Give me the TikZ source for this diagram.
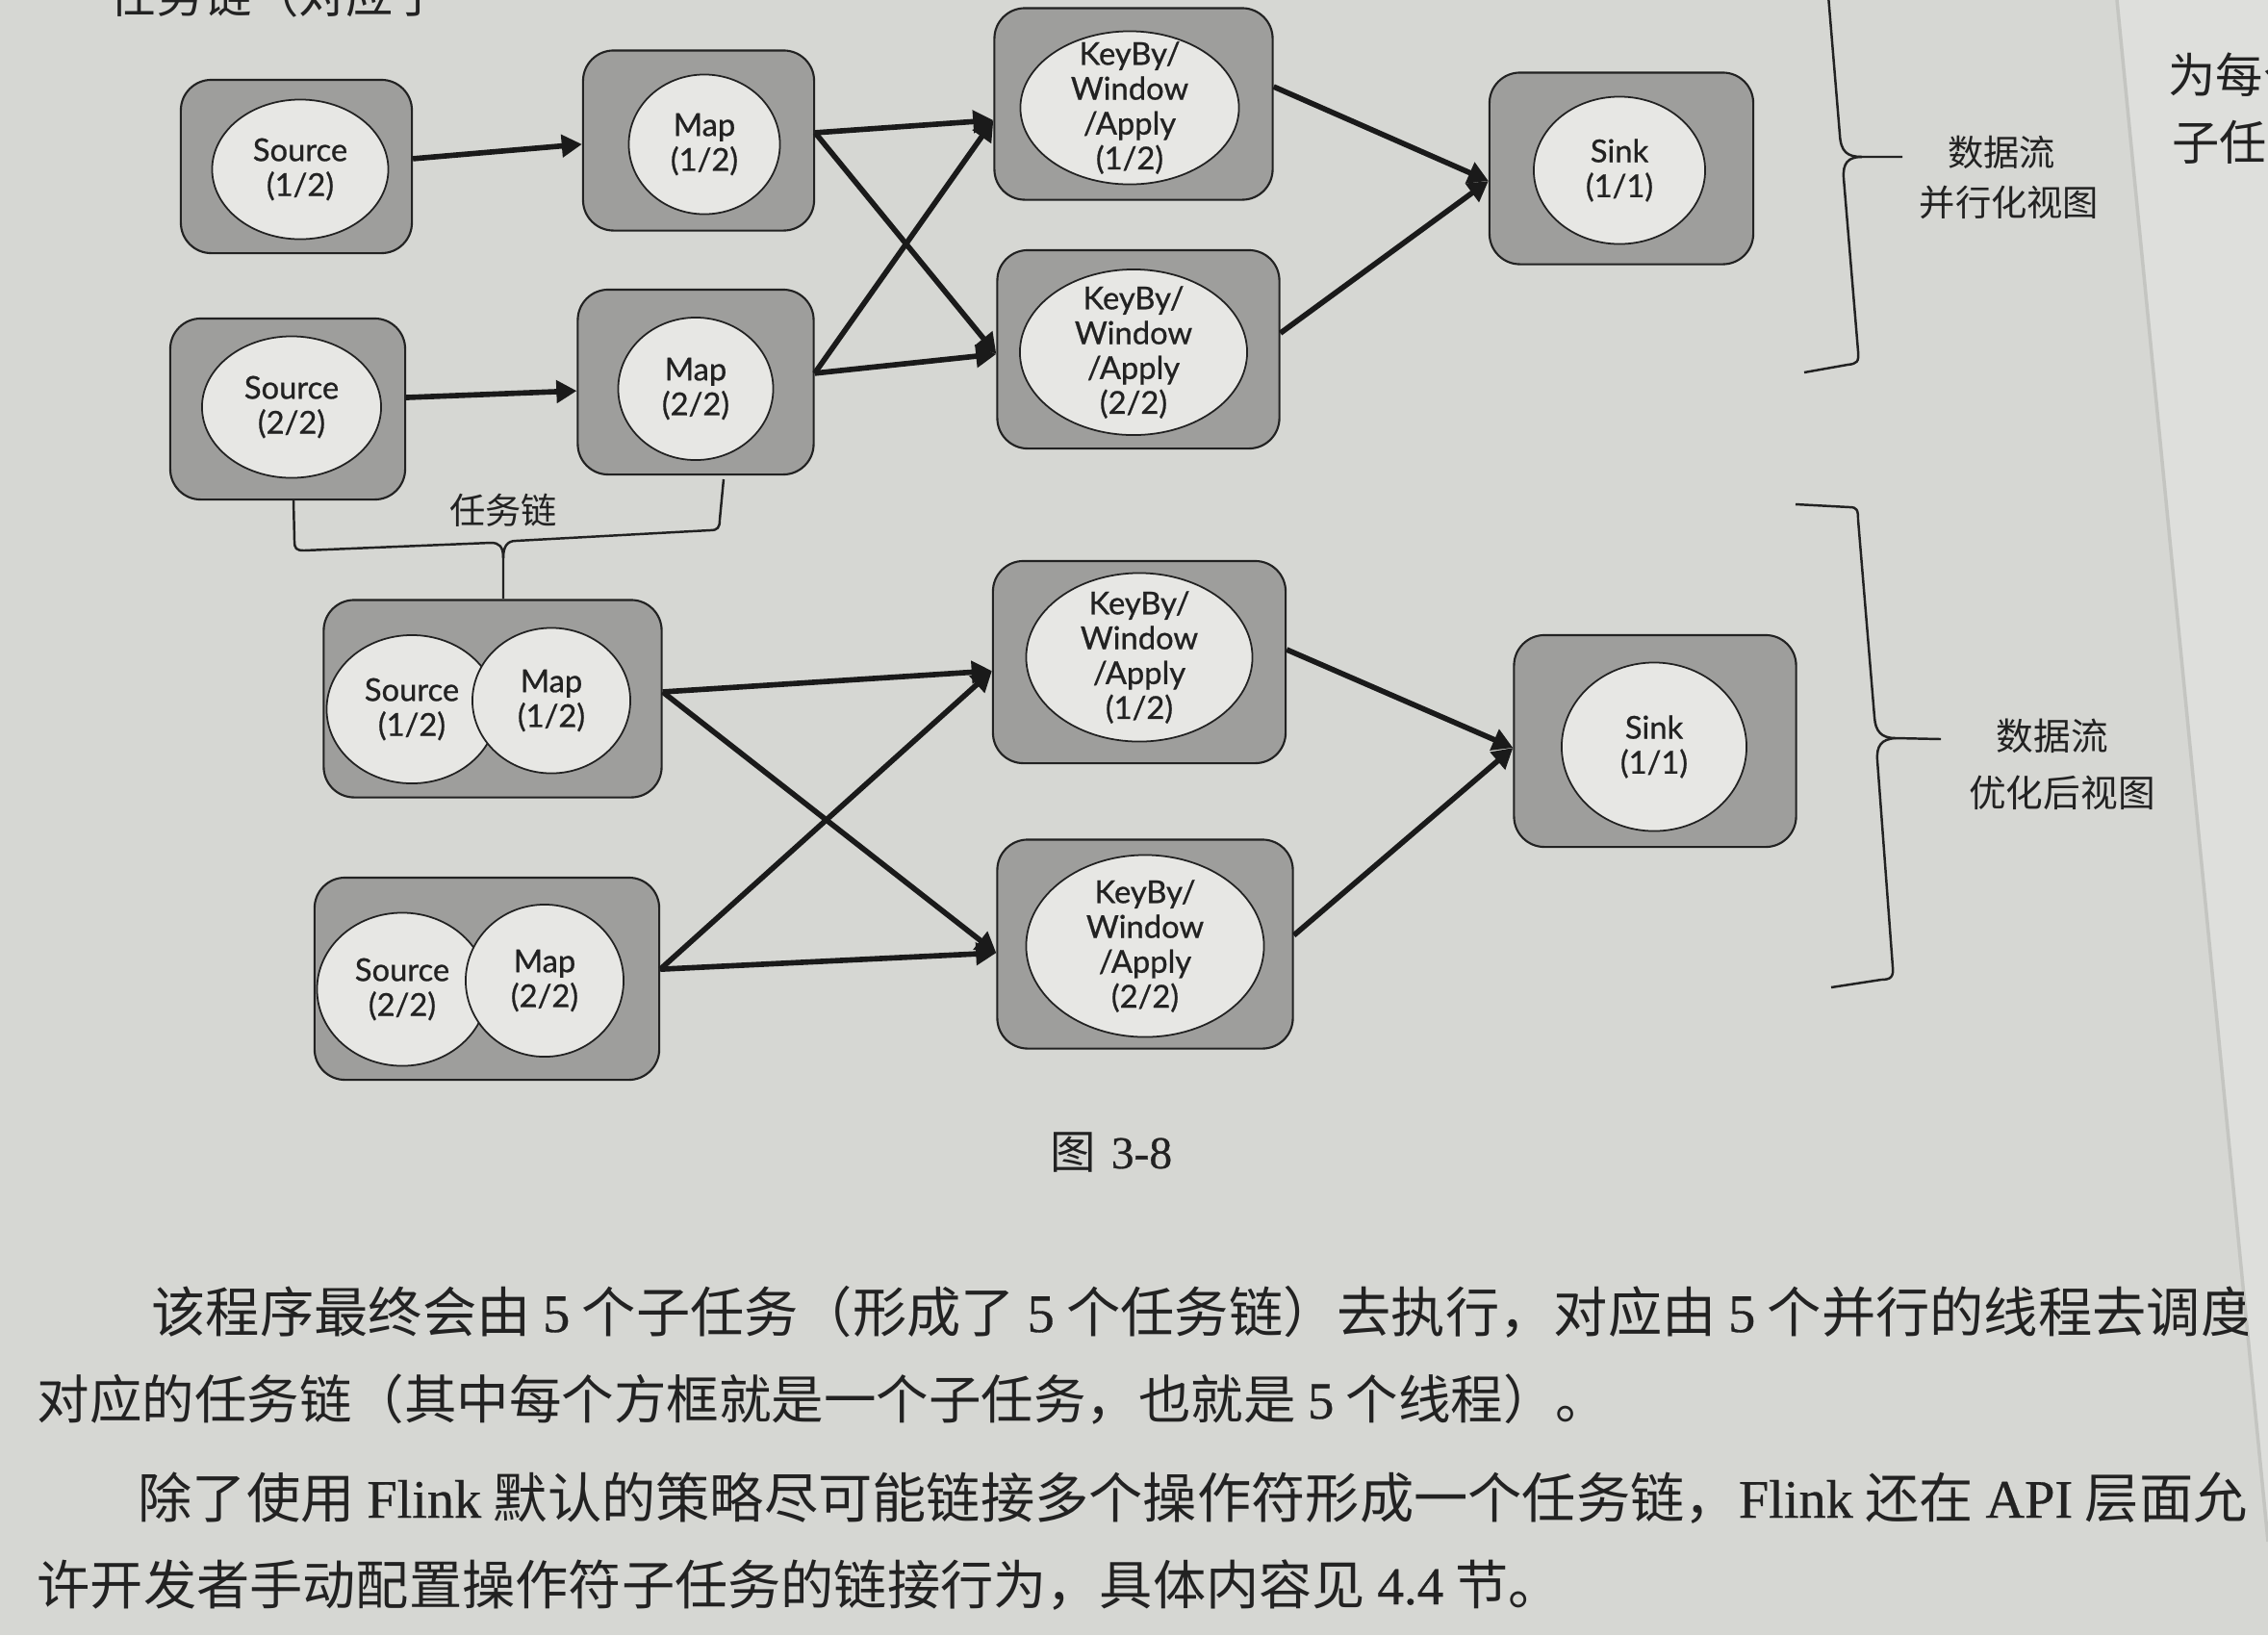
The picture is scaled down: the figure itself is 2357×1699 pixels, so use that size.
\documentclass[tikz,border=0pt]{standalone}
\usepackage{fontspec}
\usetikzlibrary{shapes.geometric,arrows.meta}
\newfontfamily\cjk{Noto Sans CJK SC}
\newfontfamily\serifl{Liberation Serif}[FakeBold=0.6]
\newfontfamily\lato{Lato}[FakeBold=0.8]
\definecolor{pagebg}{RGB}{214,215,211}
\definecolor{nextpage}{RGB}{222,223,220}
\definecolor{edgeshade}{RGB}{196,197,193}
\definecolor{boxgray}{RGB}{158,158,156}
\definecolor{opfill}{RGB}{231,231,228}
\definecolor{ink}{RGB}{34,34,34}
\definecolor{arrowink}{RGB}{26,26,26}
\begin{document}
\begin{tikzpicture}[x=0.01cm,y=-0.01cm,
  task/.style={draw=ink, line width=0.6pt, fill=boxgray, rounded corners=9pt, inner sep=0pt},
  op/.style={ellipse, draw=ink, line width=0.5pt, fill=opfill, inner sep=0pt},
  optext/.style={align=center, inner sep=0pt, text=ink, font=\lato\fontsize{9.3}{10.3}\selectfont},
  flow/.style={draw=arrowink, line width=1.6pt, -{Triangle[length=6pt,width=6.5pt]}},
  bracket/.style={draw=ink, line width=0.7pt},
  cjklabel/.style={inner sep=0pt, text=ink, font=\cjk\fontsize{10.6}{13}\selectfont},
  body/.style={anchor=base west, inner sep=0pt, text=ink}
]
\useasboundingbox (0,0) rectangle (2357,1699);
% paper
\fill[pagebg] (0,0) rectangle (2357,1699);
\fill[nextpage] (2200,0) -- (2357,0) -- (2357,1602) -- cycle;
\draw[edgeshade, line width=1pt] (2200,0) -- (2357,1602);

% ---------- parallel view ----------
\node[task, minimum width=2.40cm, minimum height=1.80cm] (src1box) at (308,173) {};
\node[op, minimum width=1.83cm, minimum height=1.45cm] (src1) at (312,176) {};
\node[optext] (src1t) at (src1) {Source\\(1/2)};

\node[task, minimum width=2.40cm, minimum height=1.87cm] (map1box) at (726,146) {};
\node[op, minimum width=1.57cm, minimum height=1.45cm] (map1) at (732,150) {};
\node[optext] (map1t) at (map1) {Map\\(1/2)};

\node[task, minimum width=2.44cm, minimum height=1.88cm] (src2box) at (299,425) {};
\node[op, minimum width=1.86cm, minimum height=1.47cm] (src2) at (303,423) {};
\node[optext] (src2t) at (src2) {Source\\(2/2)};

\node[task, minimum width=2.45cm, minimum height=1.92cm] (map2box) at (723,397) {};
\node[op, minimum width=1.61cm, minimum height=1.48cm] (map2) at (723,404) {};
\node[optext] (map2t) at (map2) {Map\\(2/2)};

\node[task, minimum width=2.89cm, minimum height=1.99cm] (kb1box) at (1178,108) {};
\node[op, minimum width=2.27cm, minimum height=1.59cm] (kb1) at (1174,112) {};
\node[optext] (kb1t) at (kb1) {KeyBy/\\Window\\/Apply\\(1/2)};

\node[task, minimum width=2.93cm, minimum height=2.06cm] (kb2box) at (1183,363) {};
\node[op, minimum width=2.36cm, minimum height=1.72cm] (kb2) at (1178,366) {};
\node[optext] (kb2t) at (kb2) {KeyBy/\\Window\\/Apply\\(2/2)};

\node[task, minimum width=2.74cm, minimum height=1.99cm] (sink1box) at (1685,175) {};
\node[op, minimum width=1.78cm, minimum height=1.53cm] (sink1) at (1683,177) {};
\node[optext] (sink1t) at (sink1) {Sink\\(1/1)};

\draw[flow] ([yshift=2.3pt]src1box.east) -- ([yshift=-1.1pt]map1box.west);
\draw[flow] ([yshift=3.4pt]src2box.east) -- ([yshift=-2.6pt]map2box.west);
\draw[flow] ([yshift=2.3pt]map1box.east) -- ([yshift=-4.8pt]kb1box.west);
\draw[flow] ([yshift=2.3pt]map1box.east) -- ([yshift=-1.4pt]kb2box.west);
\draw[flow] ([yshift=2.6pt]map2box.east) -- ([yshift=-4.8pt]kb1box.west);
\draw[flow] ([yshift=2.6pt]map2box.east) -- ([yshift=-1.4pt]kb2box.west);
\draw[flow] ([yshift=5.1pt]kb1box.east) -- ([yshift=-3.7pt]sink1box.west);
\draw[flow] ([yshift=4.8pt]kb2box.east) -- ([yshift=-3.7pt]sink1box.west);

% task chain brace
\draw[bracket] (305,520) -- (306,562) .. controls (306,570) and (308,572) .. (316,572)
  -- (510,564) .. controls (519,564) and (523,568) .. (523,580) -- (523,622);
\draw[bracket] (523,580) .. controls (523,568) and (527,562) .. (536,562)
  -- (738,551) .. controls (746,551) and (748,548) .. (748,540) -- (752,498);
\node[cjklabel] (chainlbl) at (523,530) {任务链};

% brace of the parallel view
\draw[bracket] (1900,-5) -- (1912,140) .. controls (1913,158) and (1920,163) .. (1935,163) -- (1977,163);
\draw[bracket] (1935,163) .. controls (1920,163) and (1915,170) .. (1916,185)
  -- (1931,365) .. controls (1932,376) and (1930,378) .. (1920,379) -- (1875,387);
\node[cjklabel] (par1) at (2080,158) {数据流};
\node[cjklabel] (par2) at (2088,210) {并行化视图};

% ---------- optimized view ----------
\node[task, minimum width=3.51cm, minimum height=2.05cm] (sm1box) at (512,726) {};
\node[op, minimum width=1.77cm, minimum height=1.54cm] (src3) at (428,737) {};
\node[op, minimum width=1.64cm, minimum height=1.51cm] (map3) at (573,728) {};
\node[optext] (src3t) at (src3) {Source\\(1/2)};
\node[optext] (map3t) at (map3) {Map\\(1/2)};

\node[task, minimum width=3.58cm, minimum height=2.10cm] (sm2box) at (506,1017) {};
\node[op, minimum width=1.77cm, minimum height=1.59cm] (src4) at (418,1028) {};
\node[op, minimum width=1.64cm, minimum height=1.58cm] (map4) at (566,1019) {};
\node[optext] (src4t) at (src4) {Source\\(2/2)};
\node[optext] (map4t) at (map4) {Map\\(2/2)};

\node[task, minimum width=3.04cm, minimum height=2.10cm] (kb3box) at (1184,688) {};
\node[op, minimum width=2.35cm, minimum height=1.75cm] (kb3) at (1184,683) {};
\node[optext] (kb3t) at (kb3) {KeyBy/\\Window\\/Apply\\(1/2)};

\node[task, minimum width=3.07cm, minimum height=2.17cm] (kb4box) at (1190,981) {};
\node[op, minimum width=2.47cm, minimum height=1.89cm] (kb4) at (1190,983) {};
\node[optext] (kb4t) at (kb4) {KeyBy/\\Window\\/Apply\\(2/2)};

\node[task, minimum width=2.93cm, minimum height=2.20cm] (sink2box) at (1720,770) {};
\node[op, minimum width=1.92cm, minimum height=1.75cm] (sink2) at (1719,776) {};
\node[optext] (sink2t) at (sink2) {Sink\\(1/1)};

\draw[flow] ([yshift=2pt]sm1box.east) -- ([yshift=-2.6pt]kb3box.west);
\draw[flow] ([yshift=2pt]sm1box.east) -- ([yshift=-2.6pt]kb4box.west);
\draw[flow] ([yshift=2.8pt]sm2box.east) -- ([yshift=-2.6pt]kb3box.west);
\draw[flow] ([yshift=2.8pt]sm2box.east) -- ([yshift=-2.6pt]kb4box.west);
\draw[flow] ([yshift=3.7pt]kb3box.east) -- ([yshift=-2pt]sink2box.west);
\draw[flow] ([yshift=2.6pt]kb4box.east) -- ([yshift=-2pt]sink2box.west);

% brace of the optimized view
\draw[bracket] (1866,524) -- (1922,527) .. controls (1930,527) and (1931,530) .. (1931,540)
  -- (1948,745) .. controls (1949,760) and (1955,767) .. (1970,767) -- (2017,768);
\draw[bracket] (1970,767) .. controls (1955,768) and (1950,775) .. (1951,790)
  -- (1967,1005) .. controls (1968,1015) and (1965,1018) .. (1955,1018) -- (1903,1026);
\node[cjklabel, font=\cjk\fontsize{11}{13}\selectfont] (opt1) at (2133,765) {数据流};
\node[cjklabel, font=\cjk\fontsize{11}{13}\selectfont] (opt2) at (2143,824) {优化后视图};

% caption
\node[inner sep=0pt, text=ink, font=\fontsize{13.5}{15}\selectfont] (cap) at (1155,1197) {{\cjk 图} {\serifl 3-8}};

% running text of the page
\begin{scope}
\clip (0,0) -- (2200,0) -- (2357,1602) -- (2357,1699) -- (0,1699) -- cycle;
\node[body, font=\cjk\fontsize{14}{16}\selectfont] (prev) at (113,13) {任务链（对应于};
\node[body, font=\cjk\fontsize{16}{19}\selectfont] (line1) at (157,1384)
  {该程序最终会由 {\serifl 5} 个子任务（形成了 {\serifl 5} 个任务链）去执行，对应由 {\serifl 5} 个并行的线程去调度};
\node[body, font=\cjk\fontsize{15.5}{18}\selectfont] (line2) at (38,1474)
  {对应的任务链（其中每个方框就是一个子任务，也就是 {\serifl 5} 个线程）。};
\node[body, font=\cjk\fontsize{16}{19}\selectfont] (line3) at (143,1577)
  {除了使用 {\serifl Flink} 默认的策略尽可能链接多个操作符形成一个任务链，{\serifl Flink} 还在 {\serifl API} 层面允};
\node[body, font=\cjk\fontsize{15.7}{18}\selectfont] (line4) at (38,1667)
  {许开发者手动配置操作符子任务的链接行为，具体内容见 {\serifl 4.4} 节。};
\end{scope}
\node[body, font=\cjk\fontsize{14}{16}\selectfont] (next1) at (2253,96) {为每个};
\node[body, font=\cjk\fontsize{14}{16}\selectfont] (next2) at (2257,166) {子任务};
\end{tikzpicture}
\end{document}
